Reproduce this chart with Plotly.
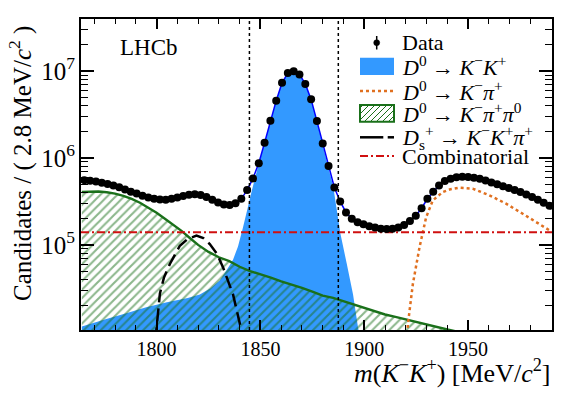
import numpy as np
import plotly.graph_objects as go

# ── Data: bin centres (2.8 MeV bins) and candidate counts ─────────────────────
BIN_WIDTH = 2.8
mass = np.round(1765.2 + BIN_WIDTH * np.arange(81), 1)
data_counts = [
    5.56e5, 5.47e5, 5.35e5, 5.19e5, 5.01e5, 4.81e5, 4.59e5, 4.33e5, 4.09e5, 3.89e5,
    3.67e5, 3.51e5, 3.39e5, 3.33e5, 3.31e5, 3.39e5, 3.51e5, 3.65e5, 3.77e5, 3.82e5,
    3.75e5, 3.56e5, 3.31e5, 3.08e5, 2.92e5, 2.87e5, 3.02e5, 3.39e5, 4.27e5, 5.82e5,
    8.71e5, 1.50e6, 2.69e6, 4.57e6, 7.33e6, 9.51e6, 9.95e6, 9.16e6, 7.13e6, 4.73e6,
    2.66e6, 1.47e6, 8.11e5, 4.57e5, 3.16e5, 2.36e5, 2.00e5, 1.82e5, 1.73e5, 1.64e5,
    1.58e5, 1.53e5, 1.52e5, 1.53e5, 1.58e5, 1.69e5, 1.88e5, 2.16e5, 2.64e5, 3.39e5,
    4.09e5, 4.81e5, 5.43e5, 5.78e5, 6.00e5, 6.07e5, 6.03e5, 5.93e5, 5.75e5, 5.50e5,
    5.22e5, 4.99e5, 4.74e5, 4.52e5, 4.29e5, 4.05e5, 3.80e5, 3.56e5, 3.30e5, 3.05e5,
    2.82e5,
]

# ── Fit components ────────────────────────────────────────────────────────────
kk_mass = [1764, 1775, 1785, 1795, 1805, 1815, 1820.8, 1826, 1830.4, 1834, 1836.8,
           1839.2, 1841.6, 1843.6, 1845.6, 1848.8, 1852, 1854.8, 1857.6, 1860.4,
           1863.2, 1866, 1868.8, 1871.6, 1874.4, 1877.2, 1880, 1882.8, 1885, 1886.8,
           1888.5, 1891.5, 1894.6, 1897, 1898.5]
kk_yield = [1.15e4, 1.38e4, 1.62e4, 1.91e4, 2.19e4, 2.45e4, 2.69e4, 3.16e4, 3.89e4,
            5.25e4, 6.76e4, 9.55e4, 1.58e5, 2.51e5, 3.98e5, 7.94e5, 1.48e6, 2.66e6,
            4.54e6, 7.29e6, 9.48e6, 9.93e6, 9.14e6, 7.10e6, 4.70e6, 2.63e6, 1.41e6,
            7.59e5, 4.79e5, 2.51e5, 1.35e5, 6.17e4, 2.69e4, 1.12e4, 7.1e3]

kpi_mass = [1920, 1921, 1923.4, 1926.6, 1929.8, 1933, 1937.8, 1941.5, 1945.8, 1952.2,
            1960.2, 1968.3, 1976.3, 1984.4, 1990]
kpi_yield = [5e3, 1.22e4, 3.54e4, 9.38e4, 2.08e5, 3.25e5, 4.06e5, 4.37e5, 4.56e5,
             4.44e5, 3.72e5, 2.98e5, 2.28e5, 1.75e5, 1.43e5]

kpipi0_mass = [1764, 1768, 1772, 1776, 1780, 1784, 1788, 1792, 1796, 1800, 1804, 1808,
               1812, 1816, 1820, 1825, 1830, 1835, 1840, 1845, 1850, 1855, 1860, 1865,
               1870, 1875, 1880, 1885, 1890, 1895, 1900, 1905, 1910, 1915, 1920, 1925,
               1930, 1935, 1940, 1945, 1950, 1960, 1970, 1980, 1990]
kpipi0_yield = [4.06e5, 4.12e5, 4.12e5, 4.03e5, 3.89e5, 3.67e5, 3.39e5, 3.05e5, 2.69e5,
                2.34e5, 2.00e5, 1.72e5, 1.45e5, 1.20e5, 1.00e5, 8.3e4, 7.2e4, 6.5e4,
                5.6e4, 5.0e4, 4.6e4, 4.2e4, 3.8e4, 3.5e4, 3.2e4, 2.9e4, 2.6e4, 2.45e4,
                2.24e4, 2.04e4, 1.86e4, 1.70e4, 1.58e4, 1.48e4, 1.38e4, 1.29e4, 1.20e4,
                1.12e4, 1.06e4, 1.00e4, 9.3e3, 8.3e3, 7.2e3, 6.3e3, 5.5e3]

ds_mass = [1799.0, 1799.8, 1801.6, 1803.5, 1806.4, 1811.2, 1815, 1819.2, 1822.5,
           1825.6, 1829, 1832, 1836.8, 1840, 1841, 1841.6]
ds_yield = [8e3, 1e4, 2.75e4, 4.17e4, 6.03e4, 9.77e4, 1.17e5, 1.28e5, 1.2e5, 1.02e5,
            7.94e4, 5.5e4, 2.69e4, 1.32e4, 1.0e4, 7.9e3]

comb_mass = [1763.6, 1990.4]
comb_yield = [1.4e5, 1.4e5]

signal_window = [1844.7, 1887.5]

legend_labels = [
    "Data",
    "<i>D</i><sup>0</sup> → <i>K</i><sup>−</sup><i>K</i><sup>+</sup>",
    "<i>D</i><sup>0</sup> → <i>K</i><sup>−</sup><i>π</i><sup>+</sup>",
    "<i>D</i><sup>0</sup> → <i>K</i><sup>−</sup><i>π</i><sup>+</sup><i>π</i><sup>0</sup>",
    "<i>D</i><sub>s</sub><sup>+</sup> → <i>K</i><sup>−</sup><i>K</i><sup>+</sup><i>π</i><sup>+</sup>",
    "Combinatorial",
]

X_RANGE = [1763.6, 1990.4]
Y_RANGE_LOG = [4.02, 7.6]

# ── Style ─────────────────────────────────────────────────────────────────────
FONT = "'Liberation Serif', 'Times New Roman', 'DejaVu Serif', serif"
C_KK = "#3399FF"
C_KPI = "#E07020"
C_KPIPI0 = "#1A701A"
C_COMB = "#D01010"
DASH_DS = "13px,6px"
DASH_COMB = "8px,3px,2px,3px"

# page body adds an 8px offset, plot area is 81..552 x 19..330 in the window
OFF = 8
PLOT_L, PLOT_R, PLOT_T, PLOT_B = 81, 552, 19, 330


def px(xp):
    return (xp - PLOT_L) / (PLOT_R - PLOT_L)


def py(yp):
    return 1 - (yp - PLOT_T) / (PLOT_B - PLOT_T)


fig = go.Figure()

fig.add_trace(go.Scatter(
    x=kk_mass, y=kk_yield, mode="none", fill="tozeroy", fillcolor=C_KK,
    showlegend=False, hoverinfo="skip",
))
fig.add_trace(go.Scatter(
    x=kpipi0_mass, y=kpipi0_yield, mode="lines", fill="tozeroy",
    line=dict(color=C_KPIPI0, width=2.4),
    fillcolor="rgba(0,0,0,0)",
    fillpattern=dict(shape="/", fgcolor=C_KPIPI0, bgcolor="rgba(0,0,0,0)",
                     size=6, solidity=0.35),
    showlegend=False, hoverinfo="skip",
))
fig.add_trace(go.Scatter(
    x=kpi_mass, y=kpi_yield, mode="lines",
    line=dict(color=C_KPI, width=2.5, dash="dot"),
    showlegend=False, hoverinfo="skip",
))
fig.add_trace(go.Scatter(
    x=ds_mass, y=ds_yield, mode="lines",
    line=dict(color="black", width=2.5, dash=DASH_DS),
    showlegend=False, hoverinfo="skip",
))
fig.add_trace(go.Scatter(
    x=comb_mass, y=comb_yield, mode="lines",
    line=dict(color=C_COMB, width=2, dash=DASH_COMB),
    showlegend=False, hoverinfo="skip",
))
# total fit
fig.add_trace(go.Scatter(
    x=mass, y=data_counts, mode="lines", line=dict(color="#0000FF", width=1.5),
    showlegend=False, hoverinfo="skip",
))
fig.add_trace(go.Scatter(
    x=mass, y=data_counts, mode="markers",
    marker=dict(color="black", size=8),
    showlegend=False, name="Data",
))

shapes = []
for xv in signal_window:
    shapes.append(dict(type="line", x0=xv, x1=xv, y0=0, y1=1, xref="x", yref="paper",
                       line=dict(color="black", width=1.5, dash="dot"), layer="above"))

# ── Legend (drawn by hand to follow the ROOT layout) ──────────────────────────
row_y = [42.7, 66.3, 91.0, 113.3, 137.3, 156.0]
sym_l, sym_r, text_x = 360, 394, 400
annotations = []
for label, ry in zip(legend_labels, row_y):
    annotations.append(dict(
        text=label, x=px(text_x), y=py(ry), xref="paper", yref="paper",
        xanchor="left", yanchor="middle", showarrow=False,
        font=dict(family=FONT, size=22, color="black")))

paper = dict(xref="paper", yref="paper", layer="above")
# data: dot with error bar
shapes.append(dict(type="line", x0=px(376.7), x1=px(376.7), y0=py(36), y1=py(49.5),
                   line=dict(color="black", width=1.5), **paper))
shapes.append(dict(type="circle", x0=px(373.7), x1=px(379.7), y0=py(45.7), y1=py(39.7),
                   fillcolor="black", line=dict(color="black", width=0.5), **paper))
# D0 -> KK: filled box
shapes.append(dict(type="rect", x0=px(sym_l), x1=px(sym_r), y0=py(75), y1=py(57.7),
                   fillcolor=C_KK, line=dict(width=0), **paper))
# D0 -> Kpi: dotted line
shapes.append(dict(type="line", x0=px(sym_l), x1=px(sym_r), y0=py(row_y[2]), y1=py(row_y[2]),
                   line=dict(color=C_KPI, width=2.5, dash="dot"), **paper))
# D0 -> Kpipi0: hatched box
hb_t, hb_b = 105.0, 121.7
shapes.append(dict(type="rect", x0=px(sym_l), x1=px(sym_r), y0=py(hb_b), y1=py(hb_t),
                   fillcolor="white", line=dict(color=C_KPIPI0, width=2), **paper))
for c in np.arange(sym_l - (hb_b - hb_t) + 3, sym_r, 6.0):
    # '/' hatch: from (c, bottom) to (c + h, top), clipped to the box
    x0, y0 = float(c), hb_b
    x1, y1 = float(c) + (hb_b - hb_t), hb_t
    if x0 < sym_l:
        y0 -= sym_l - x0
        x0 = sym_l
    if x1 > sym_r:
        y1 += x1 - sym_r
        x1 = sym_r
    if x1 - x0 < 1:
        continue
    shapes.append(dict(type="line", x0=px(x0), x1=px(x1), y0=py(y0), y1=py(y1),
                       line=dict(color=C_KPIPI0, width=1), **paper))
# Ds: dashed line
shapes.append(dict(type="line", x0=px(sym_l), x1=px(383.3), y0=py(row_y[4]), y1=py(row_y[4]),
                   line=dict(color="black", width=2.5), **paper))
shapes.append(dict(type="line", x0=px(387.7), x1=px(sym_r), y0=py(row_y[4]), y1=py(row_y[4]),
                   line=dict(color="black", width=2.5), **paper))
# combinatorial: dash-dot
shapes.append(dict(type="line", x0=px(sym_l), x1=px(sym_r), y0=py(row_y[5]), y1=py(row_y[5]),
                   line=dict(color=C_COMB, width=2, dash=DASH_COMB), **paper))

annotations += [
    dict(text="LHCb", x=px(118), y=py(47), xref="paper", yref="paper",
         xanchor="left", yanchor="middle", showarrow=False,
         font=dict(family=FONT, size=23, color="black")),
    dict(text="<i>m</i>(<i>K</i><sup>−</sup><i>K</i><sup>+</sup>) [MeV/<i>c</i><sup>2</sup>]",
         x=1.0, y=py(371), xref="paper", yref="paper",
         xanchor="right", yanchor="middle", showarrow=False,
         font=dict(family=FONT, size=26, color="black")),
    dict(text="Candidates / ( 2.8 MeV/<i>c</i><sup>2</sup> )",
         x=px(20), y=py(164), xref="paper", yref="paper", textangle=-90,
         xanchor="center", yanchor="middle", showarrow=False,
         font=dict(family=FONT, size=25, color="black")),
]

# ── Layout ────────────────────────────────────────────────────────────────────
axis_common = dict(
    showline=True, linecolor="black", linewidth=2, mirror="allticks",
    ticks="inside", tickcolor="black", tickwidth=1.5,
    showgrid=False, zeroline=False,
    tickfont=dict(family=FONT, size=20, color="black"),
)

W, H = 581 - OFF, 394 - OFF
fig.update_layout(
    width=W, height=H,
    paper_bgcolor="white", plot_bgcolor="white",
    margin=dict(l=PLOT_L - OFF, r=W - (PLOT_R - OFF), t=PLOT_T - OFF,
                b=H - (PLOT_B - OFF), autoexpand=False),
    font=dict(family=FONT, color="black"),
    xaxis=dict(**axis_common, range=X_RANGE, dtick=50, tick0=1800, ticklen=10,
               minor=dict(ticks="inside", dtick=10, tick0=1800, ticklen=5,
                          tickcolor="black", tickwidth=1.2)),
    yaxis=dict(**axis_common, type="log", range=Y_RANGE_LOG, dtick=1, ticklen=13,
               exponentformat="power", showexponent="all",
               minor=dict(ticks="inside", dtick="D1", ticklen=7,
                          tickcolor="black", tickwidth=1.2)),
    annotations=annotations,
    shapes=shapes,
    showlegend=False,
)

fig.write_html("out.html")
